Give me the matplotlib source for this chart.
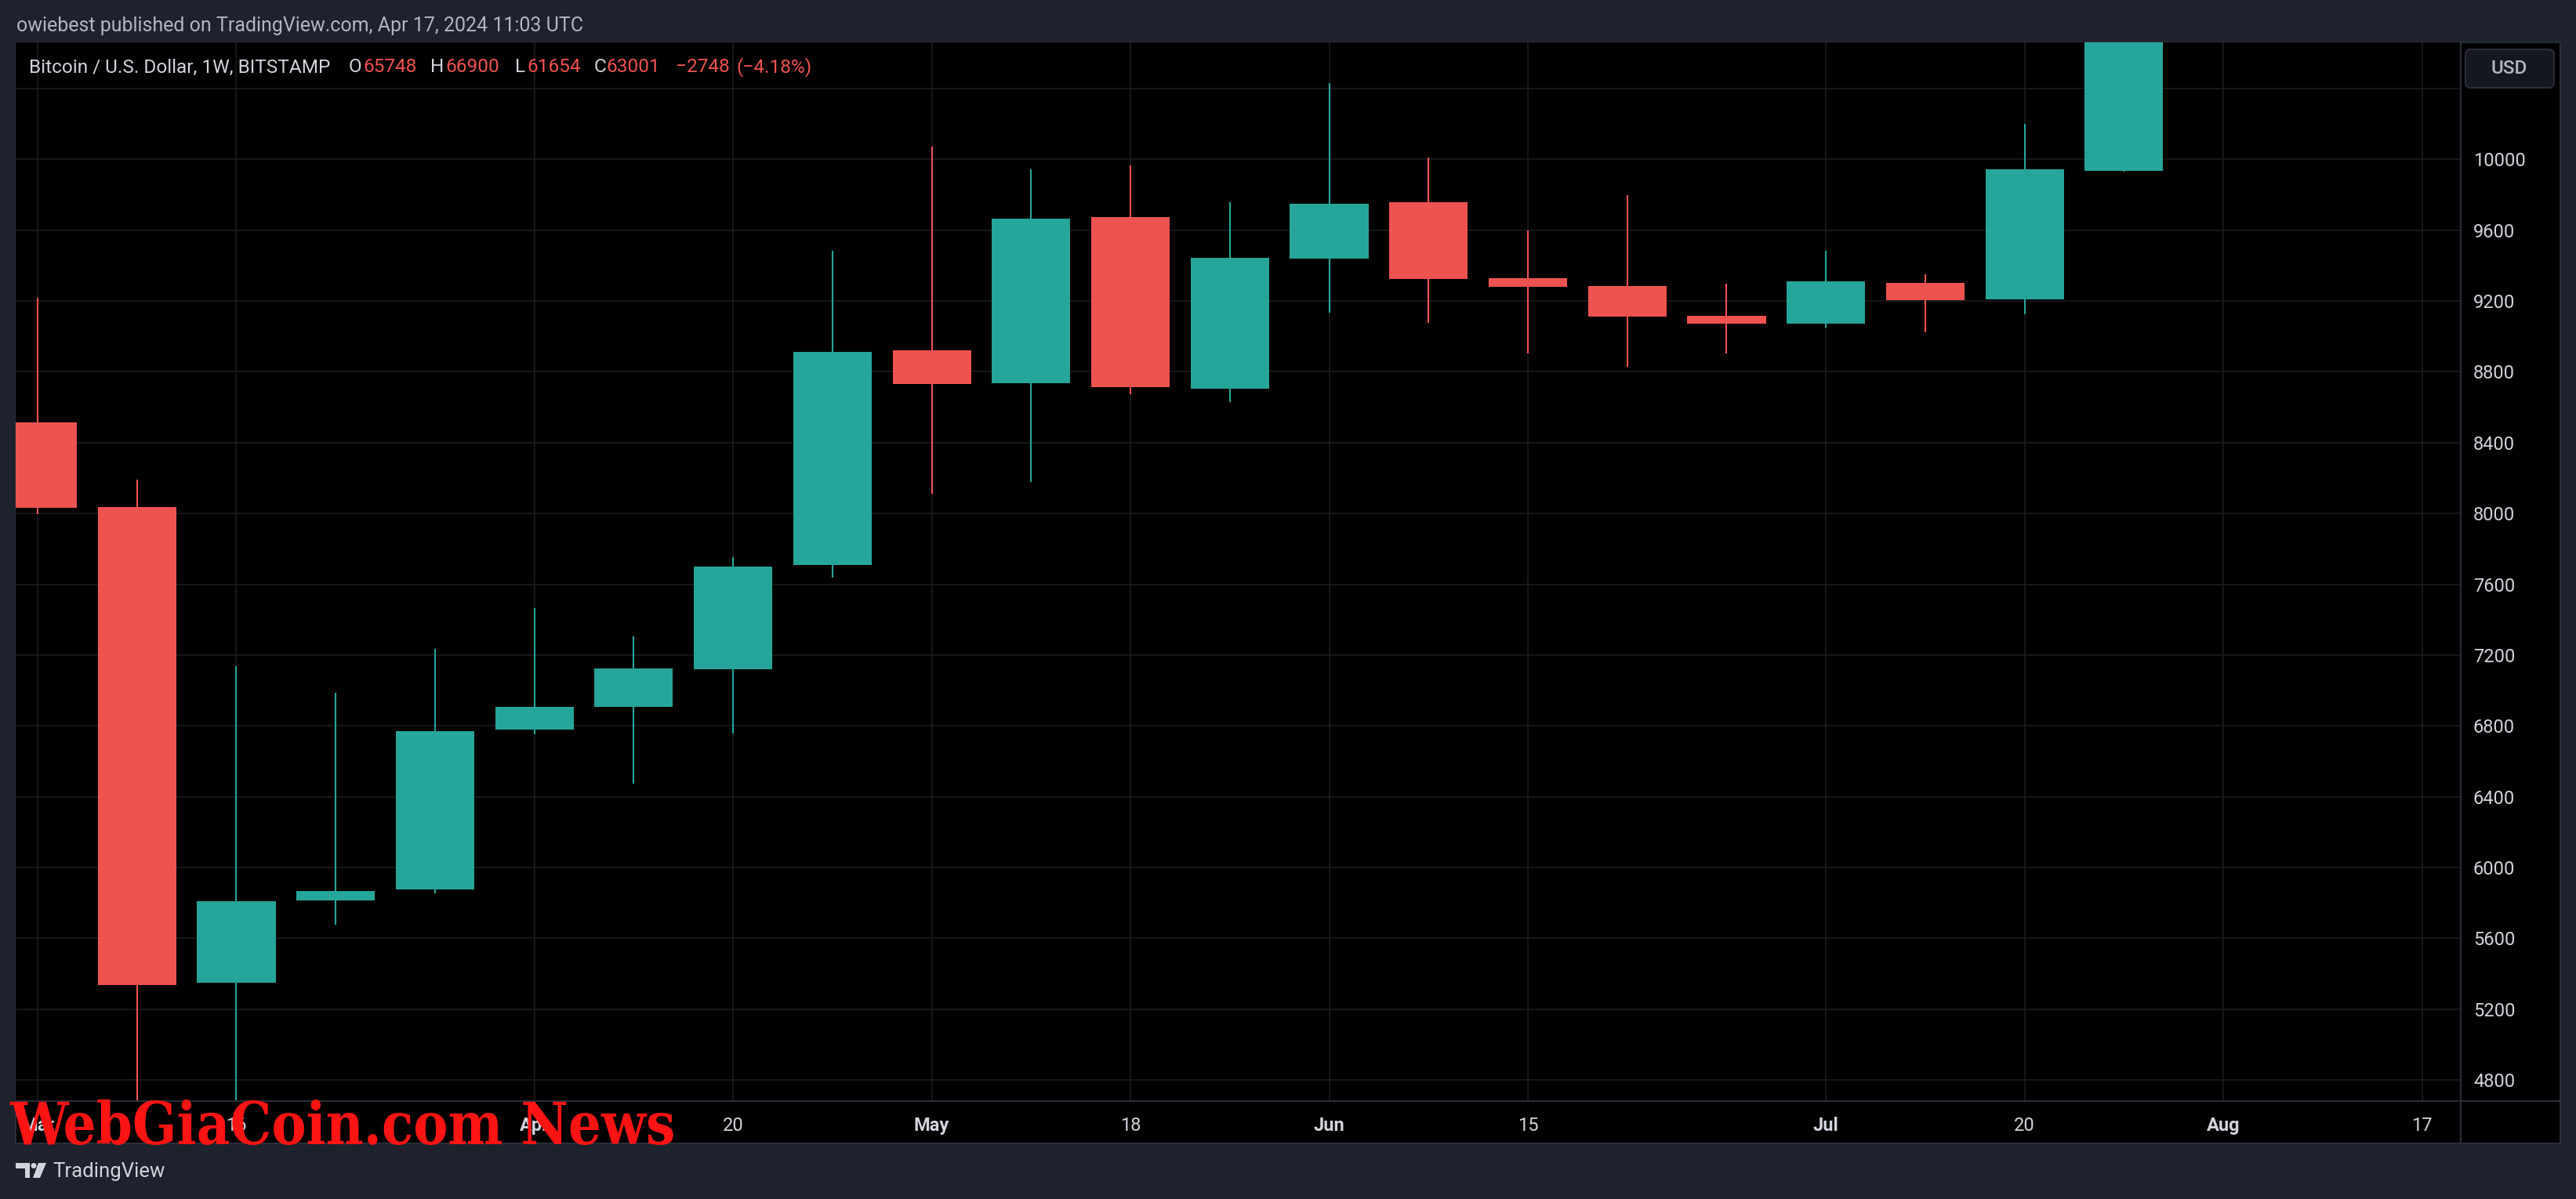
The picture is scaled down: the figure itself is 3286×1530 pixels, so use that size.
import numpy as np
import matplotlib
matplotlib.use("Agg")
import matplotlib.pyplot as plt
from matplotlib.patches import Rectangle, FancyBboxPatch, Circle, Polygon
from matplotlib.lines import Line2D
from matplotlib.font_manager import FontProperties

# weekly BTC candles (BITSTAMP, 1W)
weeks = ["Mar 2", "Mar 9", "Mar 16", "Mar 23", "Mar 30", "Apr 6", "Apr 13",
         "Apr 20", "Apr 27", "May 4", "May 11", "May 18", "May 25", "Jun 1",
         "Jun 8", "Jun 15", "Jun 22", "Jun 29", "Jul 6", "Jul 13", "Jul 20",
         "Jul 27"]
opens = [8514, 8034, 5349, 5814, 5875, 6778, 6908, 7120, 7707, 8921, 8736,
         9674, 8706, 9439, 9758, 9328, 9286, 9117, 9071, 9301, 9209, 9935]
highs = [9220, 8191, 7139, 6985, 7235, 7465, 7304, 7753, 9485, 10073, 9946,
         9965, 9758, 10430, 10012, 9597, 9800, 9297, 9482, 9351, 10200, 11400]
lows = [7995, 3850, 4450, 5679, 5856, 6751, 6474, 6759, 7638, 8110, 8180,
        8675, 8629, 9136, 9078, 8902, 8829, 8905, 9051, 9025, 9124, 9930]
closes = [8030, 5338, 5810, 5868, 6770, 6908, 7123, 7699, 8913, 8729, 9666,
          8713, 9443, 9750, 9324, 9278, 9113, 9071, 9309, 9205, 9946, 11100]

time_tick_pos = [0, 2, 5, 7, 9, 11, 13, 15, 18, 20, 22, 24]
time_tick_labels = ["Mar", "16", "Apr", "20", "May", "18", "Jun", "15",
                    "Jul", "20", "Aug", "17"]
price_ticks = list(range(4800, 10401, 400))

UP = "#26a69a"
DOWN = "#ef5350"
OUTER = "#1e222d"
SEP = "#2a2e39"
GRID = "#1b1c20"
TXT = "#d1d4dc"

W, H = 3286, 1530
plt.rcParams["font.family"] = ["Roboto", "DejaVu Sans"]

fig = plt.figure(figsize=(W / 100, H / 100), dpi=100, facecolor=OUTER)
inch = fig.dpi_scale_trans


def fx(px):
    return px / W


def fy(py):
    return 1 - py / H


def pt(px, py):
    # pixel position (from top-left) -> inches for dpi_scale_trans
    return (px / 100, (H - py) / 100)


# black chart panel behind everything
fig.add_artist(Rectangle(pt(20, 1459), (3266 - 20) / 100, (1459 - 54) / 100,
                         transform=inch, facecolor="black", edgecolor=SEP,
                         linewidth=1.5, zorder=-1))

ax = fig.add_axes([fx(20), fy(1405), fx(3139) - fx(20), fy(54) - fy(1405)])
ax.set_facecolor("black")
for s in ax.spines.values():
    s.set_visible(False)

x = np.arange(len(weeks))
o = np.array(opens, dtype=float)
c = np.array(closes, dtype=float)
cols = [UP if cc >= oo else DOWN for oo, cc in zip(o, c)]

ax.vlines(x, lows, highs, colors=cols, linewidth=1.5, zorder=2)
ax.bar(x, np.abs(c - o), bottom=np.minimum(o, c), width=0.79, color=cols,
       linewidth=0, zorder=3)

ax.set_xlim(-0.221, 24.39)
ax.set_ylim(4681, 10661)

ax.set_xticks(time_tick_pos)
ax.set_xticklabels(time_tick_labels)
for lbl in ax.get_xticklabels():
    if not lbl.get_text().isdigit():
        lbl.set_fontweight("bold")
ax.set_yticks(price_ticks)
ax.set_yticklabels(["" if p > 10000 else str(p) for p in price_ticks])
ax.yaxis.tick_right()
ax.tick_params(axis="y", length=0, pad=11.5, labelsize=17, labelcolor=TXT)
ax.tick_params(axis="x", length=0, pad=14.5, labelsize=17, labelcolor=TXT)
ax.grid(True, color=GRID, linewidth=1.2, zorder=0)
ax.set_axisbelow(True)

# axis separators
fig.add_artist(Line2D([fx(20), fx(3266)], [fy(1405)] * 2,
                      transform=fig.transFigure, color=SEP, lw=1.5, zorder=4))
fig.add_artist(Line2D([fx(3139)] * 2, [fy(54), fy(1459)],
                      transform=fig.transFigure, color=SEP, lw=1.5, zorder=4))

# USD button
fig.add_artist(FancyBboxPatch(pt(3145, 112), 1.13, 0.49,
                              boxstyle="round,pad=0,rounding_size=0.07",
                              transform=inch, facecolor="#15171e",
                              edgecolor=SEP, linewidth=1.5, zorder=5))
fig.text(fx(3201), fy(87), "USD", color="#b2b5be", fontsize=17.5,
         fontweight="medium", ha="center", va="center", zorder=6)

# header lines
fig.text(fx(21), fy(33),
         "owiebest published on TradingView.com, Apr 17, 2024 11:03 UTC",
         color="#b2b5be", fontsize=18, ha="left", va="center")

legend_parts = [
    (37, "Bitcoin / U.S. Dollar, 1W, BITSTAMP", TXT),
    (445, "O", TXT), (463, "65748", DOWN),
    (549, "H", TXT), (568, "66900", DOWN),
    (657, "L", TXT), (672, "61654", DOWN),
    (758, "C", TXT), (773, "63001", DOWN),
    (862, "\u22122748", DOWN), (939, "(\u22124.18%)", DOWN),
]
for px, s, col in legend_parts:
    fig.text(fx(px), fy(86), s, color=col, fontsize=17.6, ha="left",
             va="center", zorder=6)

# watermark
wm_font = FontProperties(family="DejaVu Serif", weight="bold",
                         stretch="condensed", size=53)
fig.text(fx(12), fy(1460), "WebGiaCoin.com News", color="#ff1414",
         fontproperties=wm_font, ha="left", va="baseline", zorder=7)

# TradingView footer logo + name
logo = "#d1d4dc"
fig.add_artist(Polygon([pt(20, 1484), pt(38, 1484), pt(38, 1503),
                        pt(32, 1503), pt(32, 1491), pt(20, 1491)],
                       closed=True, facecolor=logo, edgecolor="none",
                       transform=inch))
fig.add_artist(Circle(pt(43, 1487.5), 3.5 / 100, facecolor=logo,
                      edgecolor="none", transform=inch))
fig.add_artist(Polygon([pt(49, 1484), pt(59, 1484), pt(51, 1503),
                        pt(42, 1503)],
                       closed=True, facecolor=logo, edgecolor="none",
                       transform=inch))
fig.text(fx(67), fy(1495), "TradingView", color=logo, fontsize=18.5,
         ha="left", va="center")

fig.savefig("out.png", dpi=100, facecolor=OUTER)
